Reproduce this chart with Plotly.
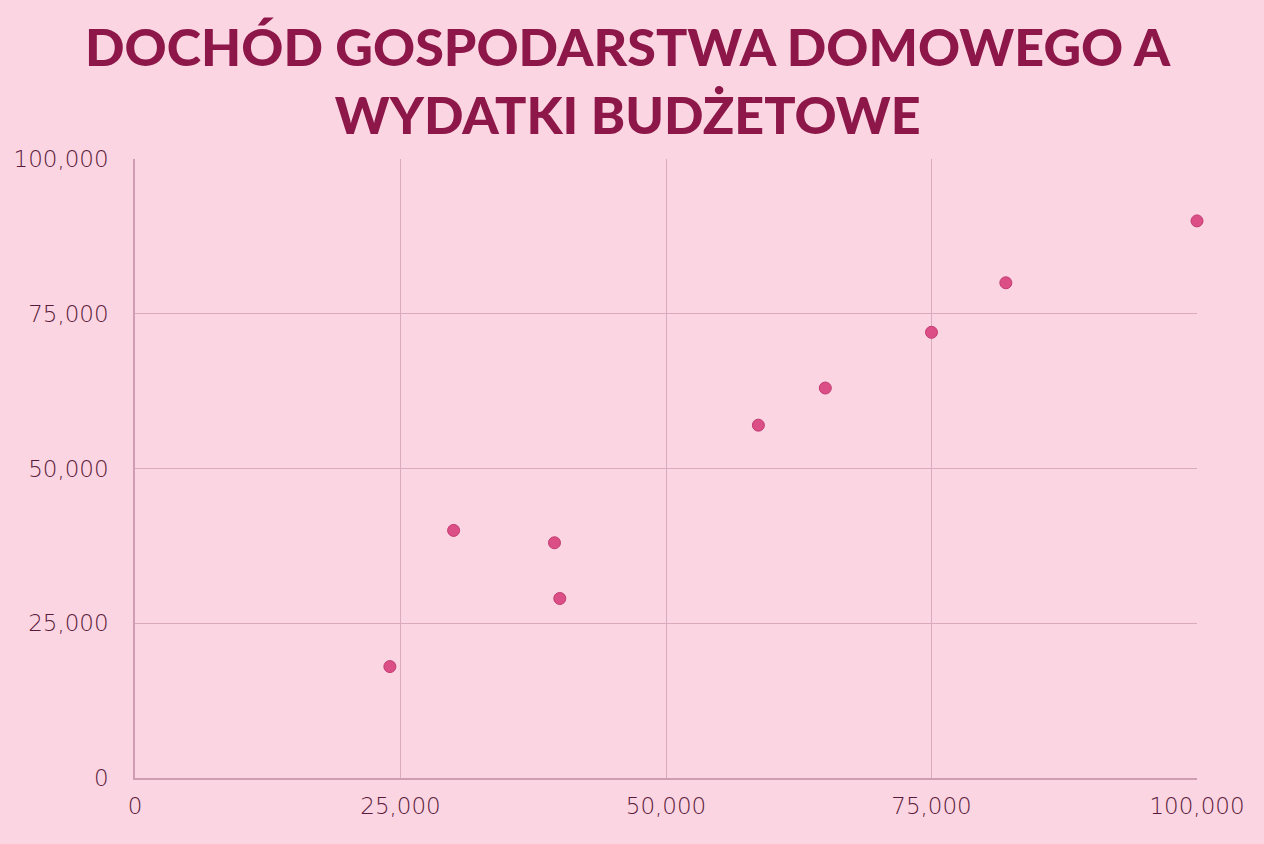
import plotly.graph_objects as go

income = [24000, 30000, 39500, 40000, 58700, 65000, 75000, 82000, 100000]
expenses = [18000, 40000, 38000, 29000, 57000, 63000, 72000, 80000, 90000]
tick_vals = [0, 25000, 50000, 75000, 100000]
tick_text = ["0", "25,000", "50,000", "75,000", "100,000"]
title_text = "DOCHÓD GOSPODARSTWA DOMOWEGO A<br>WYDATKI BUDŻETOWE"

bg = "#fcd5e2"
grid = "#d9aabd"
tick_color = "#5a1a3a"

fig = go.Figure()
fig.add_trace(go.Scatter(
    x=income, y=expenses, mode="markers",
    marker=dict(size=12, color="#dc4f86", line=dict(color="#c23a70", width=1)),
    hoverinfo="x+y", showlegend=False, cliponaxis=False,
))

axis_common = dict(
    range=[0, 100000], tickvals=tick_vals, ticktext=tick_text,
    showgrid=True, gridcolor=grid, gridwidth=1,
    zeroline=False, showline=True, linecolor="#cf9db1", linewidth=1.5,
    tickfont=dict(family="DejaVu Sans", size=23, color=tick_color, weight=300),
    ticks="", fixedrange=True, automargin=False,
)

fig.update_xaxes(**axis_common, ticklabelstandoff=7)
fig.update_yaxes(**axis_common, ticklabelstandoff=20)

fig.update_layout(
    width=1264, height=844,
    paper_bgcolor=bg, plot_bgcolor=bg,
    margin=dict(l=135, r=67, t=159, b=66),
    annotations=[dict(
        text=title_text, xref="paper", yref="paper",
        x=0.464, xanchor="center", y=1.127, yanchor="middle",
        showarrow=False, align="center",
        font=dict(family="Lato", size=52, color="#8c1748", weight=900),
    )],
)

fig.write_html("out.html")
